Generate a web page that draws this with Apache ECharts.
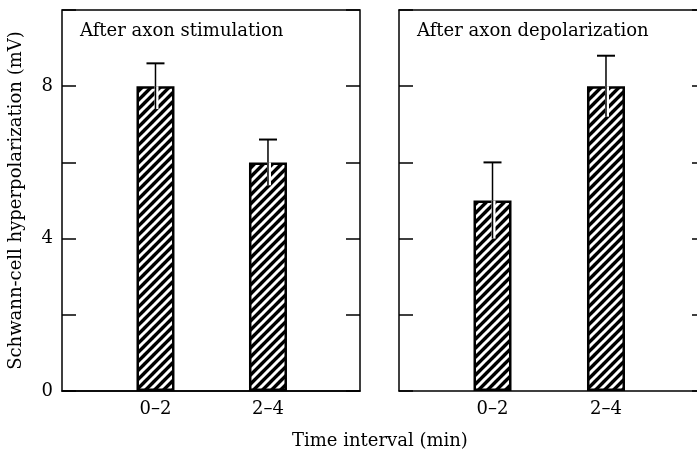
<!DOCTYPE html>
<html>
<head>
<meta charset="utf-8">
<script src="https://cdn.jsdelivr.net/npm/echarts@6/dist/echarts.min.js"></script>
<style>
  html, body { margin: 0; padding: 0; background: #fff; }
  #chart { width: 697px; height: 451px; }
</style>
</head>
<body>
<div id="chart"></div>
<script>
// data
const categories = ["0–2", "2–4"];
const stimMeans = [8, 6];
const stimErrors = [0.6, 0.6];
const depolMeans = [5, 8];
const depolErrors = [1.0, 0.8];
const panelTitles = ["After axon stimulation", "After axon depolarization"];
const yLabelsShown = [0, 4, 8];

const FONT = "DejaVu Serif";
const BLACK = "#000";

// hatch pattern: black with white diagonal stripes
const S = 9;
const tile = document.createElement("canvas");
tile.width = S;
tile.height = S;
const tctx = tile.getContext("2d");
tctx.fillStyle = BLACK;
tctx.fillRect(0, 0, S, S);
tctx.strokeStyle = "#fff";
tctx.lineWidth = 3;
tctx.beginPath();
tctx.moveTo(-1, S + 1); tctx.lineTo(S + 1, -1);
tctx.moveTo(-1, 1); tctx.lineTo(1, -1);
tctx.moveTo(S - 1, S + 1); tctx.lineTo(S + 1, S - 1);
tctx.stroke();

const chart = echarts.init(document.getElementById("chart"));

function xAxis(grid, min, max, pos, labels) {
  return {
    type: "value",
    gridIndex: grid,
    position: pos,
    min: min,
    max: max,
    axisLine: { show: true, onZero: false, lineStyle: { color: BLACK, width: 1.5 } },
    axisTick: { show: false },
    splitLine: { show: false },
    axisLabel: {
      show: labels,
      customValues: [0, 1],
      formatter: (v) => categories[Math.round(v)],
      color: BLACK,
      fontFamily: FONT,
      fontSize: 18,
      margin: 9,
    },
  };
}

function yAxis(grid, pos, labels, line, tickLen, name) {
  return {
    type: "value",
    gridIndex: grid,
    position: pos,
    min: 0,
    max: 10,
    interval: 2,
    name: name || "",
    nameLocation: "middle",
    nameGap: 37,
    nameTextStyle: { color: BLACK, fontFamily: FONT, fontSize: 18 },
    axisLine: { show: line, onZero: false, lineStyle: { color: BLACK, width: 1.5 } },
    axisTick: { show: true, inside: true, length: tickLen, lineStyle: { color: BLACK, width: 1.5 } },
    splitLine: { show: false },
    axisLabel: {
      show: labels,
      color: BLACK,
      fontFamily: FONT,
      fontSize: 18,
      margin: 9,
      formatter: (v) => (yLabelsShown.includes(v) ? String(v) : ""),
    },
  };
}

function errorBars(means, errs, xi, yi) {
  return {
    type: "custom",
    xAxisIndex: xi,
    yAxisIndex: yi,
    z: 5,
    data: means.map((m, i) => [i, m, errs[i]]),
    renderItem: (params, api) => {
      const x = api.value(0), m = api.value(1), e = api.value(2);
      const top = api.coord([x, m + e]);
      const mid = api.coord([x, m]);
      const bot = api.coord([x, m - e]);
      return {
        type: "group",
        children: [
          // lower half sits inside the hatched bar, on a white gap
          { type: "line", shape: { x1: mid[0] + 1, y1: mid[1], x2: bot[0] + 1, y2: bot[1] }, style: { stroke: "#fff", lineWidth: 4 } },
          { type: "line", shape: { x1: mid[0], y1: mid[1], x2: bot[0], y2: bot[1] }, style: { stroke: BLACK, lineWidth: 1.5 } },
          { type: "line", shape: { x1: top[0], y1: top[1], x2: mid[0], y2: mid[1] }, style: { stroke: BLACK, lineWidth: 1.5 } },
          { type: "line", shape: { x1: top[0] - 9, y1: top[1], x2: top[0] + 9, y2: top[1] }, style: { stroke: BLACK, lineWidth: 2 } },
        ],
      };
    },
  };
}

function bars(means, xi, yi) {
  return {
    type: "bar",
    xAxisIndex: xi,
    yAxisIndex: yi,
    barWidth: 38,
    data: means.map((m, i) => [i, m]),
    itemStyle: {
      color: { image: tile, repeat: "repeat" },
      borderColor: BLACK,
      borderWidth: 2.5,
    },
  };
}

const textStyle = { fontFamily: FONT, fontSize: 18, fontWeight: "normal", color: BLACK };

const option = {
  backgroundColor: "#fff",
  animation: false,
  title: [
    { text: panelTitles[0], left: 75, top: 17, textStyle: textStyle },
    { text: panelTitles[1], left: 412, top: 17, textStyle: textStyle },
    { text: "Time interval (min)", left: 287, top: 427, textStyle: textStyle },
  ],
  grid: [
    { left: 62, top: 10, width: 298, height: 381, show: true, borderColor: BLACK, borderWidth: 1.5, backgroundColor: "transparent" },
    // right panel runs past the picture edge: no right border, only stubs of its right ticks
    { left: 399, top: 10, width: 298, height: 381, show: false },
  ],
  xAxis: [
    xAxis(0, -0.831, 1.818, "bottom", true),
    xAxis(1, -0.824, 1.802, "bottom", true),
    xAxis(1, -0.824, 1.802, "top", false),
  ],
  yAxis: [
    yAxis(0, "left", true, false, 14, "Schwann-cell hyperpolarization (mV)"),
    yAxis(0, "right", false, false, 14),
    yAxis(1, "left", false, true, 14),
    yAxis(1, "right", false, false, 5),
  ],
  series: [
    bars(stimMeans, 0, 0),
    errorBars(stimMeans, stimErrors, 0, 0),
    bars(depolMeans, 1, 2),
    errorBars(depolMeans, depolErrors, 1, 2),
  ],
};

chart.setOption(option);
</script>
</body>
</html>
